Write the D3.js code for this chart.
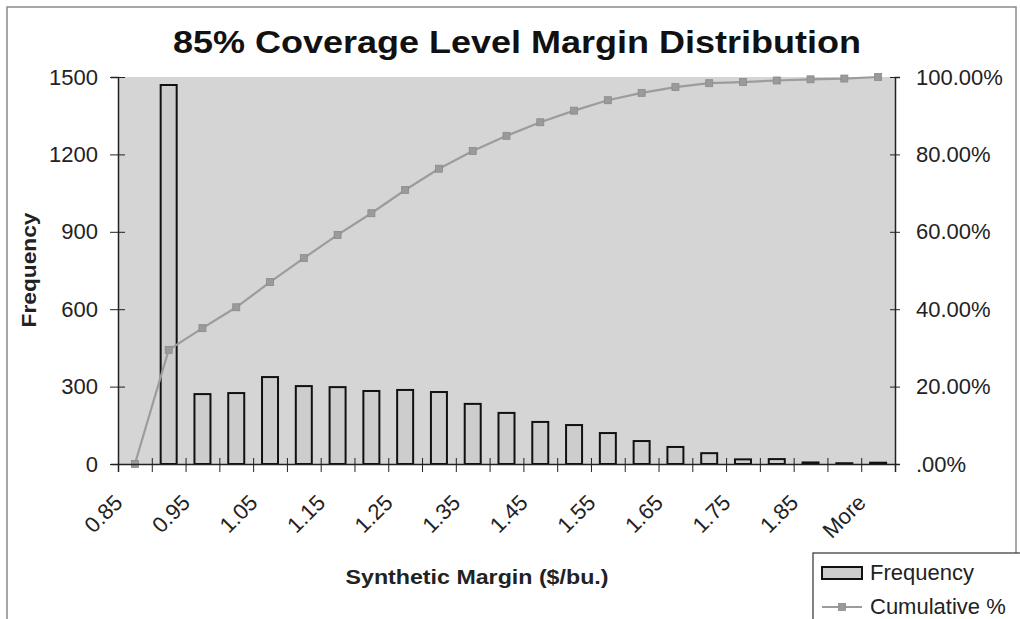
<!DOCTYPE html>
<html><head><meta charset="utf-8">
<script src="https://cdn.jsdelivr.net/npm/d3@7"></script>
<style>
html,body{margin:0;padding:0;background:#fff;}
svg{display:block;font-family:"Liberation Sans",Arial,sans-serif;}
</style></head>
<body>
<svg id="chart" width="1020" height="619"></svg>
<script>
const categories = ["0.85","0.90","0.95","1.00","1.05","1.10","1.15","1.20","1.25","1.30","1.35","1.40","1.45","1.50","1.55","1.60","1.65","1.70","1.75","1.80","1.85","1.90","More"];
const frequency = [0,1469,271,275,337,302,298,283,287,279,233,198,163,151,120,89,66,42,18,19,6,3,5];
const cumulativePct = [0,29.5,35.1,40.5,47.0,53.2,59.2,64.8,70.8,76.3,80.9,84.8,88.3,91.3,94.0,95.9,97.4,98.4,98.7,99.1,99.4,99.6,100];
const leftTicks = [0,300,600,900,1200,1500];
const rightTicks = [0,20,40,60,80,100];
const shownLabels = ["0.85","0.95","1.05","1.15","1.25","1.35","1.45","1.55","1.65","1.75","1.85","More"];

const svg = d3.select("#chart");
const L = 118, R = 895, T = 77, B = 464;

// outer frame
svg.append("rect").attr("x",7).attr("y",7).attr("width",1009).attr("height",640)
  .attr("fill","#fff").attr("stroke","#8a8a8a").attr("stroke-width",1.5);

const x = d3.scaleBand().domain(categories).range([L,R]).padding(0);
const xi = d3.scaleLinear().domain([0,categories.length]).range([L,R]);
const yL = d3.scaleLinear().domain([0,1500]).range([B,T]);
const yR = d3.scaleLinear().domain([0,100]).range([B,T]);

// plot background
svg.append("rect").attr("x",L).attr("y",T).attr("width",R-L).attr("height",B-T)
  .attr("fill","#d5d5d5");

// bars
const barW = 16;
svg.append("g").selectAll("rect").data(frequency).join("rect")
  .attr("x",(d,i)=>x(categories[i]) + (x.bandwidth()-barW)/2)
  .attr("y",d=>yL(d))
  .attr("width",barW)
  .attr("height",d=>Math.max(0,B-yL(d)))
  .attr("fill","#cdcdcd").attr("stroke","#111").attr("stroke-width",2);

// cumulative line
const line = d3.line().x((d,i)=>x(categories[i])+x.bandwidth()/2).y(d=>yR(d));
svg.append("path").datum(cumulativePct).attr("d",line)
  .attr("fill","none").attr("stroke","#9c9c9c").attr("stroke-width",2.2);
svg.append("g").selectAll("rect").data(cumulativePct).join("rect")
  .attr("x",(d,i)=>x(categories[i])+x.bandwidth()/2-3.5)
  .attr("y",d=>yR(d)-3.5)
  .attr("width",7).attr("height",7)
  .attr("fill","#9a9a9a").attr("stroke","#8a8a8a").attr("stroke-width",0.8);

const tickFont = 22;
// left axis
const gl = svg.append("g").attr("transform",`translate(${L},0)`)
  .call(d3.axisLeft(yL).tickValues(leftTicks).tickSize(7).tickPadding(13).tickFormat(d3.format("d")));
gl.selectAll(".tick line").attr("x2",-8).attr("x1",7).attr("stroke","#222");
gl.select(".domain").attr("stroke","#222").attr("stroke-width",1.5);
gl.selectAll("text").attr("font-size",tickFont).attr("fill","#222").attr("font-family","Liberation Sans, Arial, sans-serif");

// right axis
const gr = svg.append("g").attr("transform",`translate(${R},0)`)
  .call(d3.axisRight(yR).tickValues(rightTicks).tickSize(5).tickPadding(16)
    .tickFormat(d=> d===0 ? ".00%" : d.toFixed(2)+"%"));
gr.selectAll(".tick line").attr("x1",-5).attr("x2",5).attr("stroke","#222");
gr.select(".domain").attr("stroke","#222").attr("stroke-width",1.5);
gr.selectAll("text").attr("font-size",tickFont).attr("fill","#222").attr("font-family","Liberation Sans, Arial, sans-serif");

// bottom axis: boundary ticks
const gb = svg.append("g").attr("transform",`translate(0,${B})`)
  .call(d3.axisBottom(xi).tickValues(d3.range(categories.length+1)).tickSize(8).tickFormat(""));
gb.selectAll(".tick line").attr("y1",-6).attr("y2",8).attr("stroke","#222");
gb.select(".domain").attr("stroke","#222").attr("stroke-width",1.5);

// bottom labels
const gbl = svg.append("g").attr("transform",`translate(0,${B})`)
  .call(d3.axisBottom(x).tickSize(0).tickFormat(d=> shownLabels.includes(d) ? d : ""));
gbl.select(".domain").remove();
gbl.selectAll("text")
  .attr("font-size",tickFont).attr("fill","#222").attr("font-family","Liberation Sans, Arial, sans-serif")
  .attr("text-anchor","end").attr("y",0).attr("dy",0)
  .attr("transform","translate(-11,40) rotate(-45)");

// title
svg.append("text").attr("x",517).attr("y",53).attr("text-anchor","middle")
  .attr("font-size",31).attr("font-weight","bold").attr("fill","#111")
  .attr("textLength",688).attr("lengthAdjust","spacingAndGlyphs")
  .text("85% Coverage Level Margin Distribution");

// axis titles
svg.append("text").attr("x",477).attr("y",584).attr("text-anchor","middle")
  .attr("font-size",20).attr("font-weight","bold").attr("fill","#222")
  .attr("textLength",263).attr("lengthAdjust","spacingAndGlyphs")
  .text("Synthetic Margin ($/bu.)");
svg.append("text").attr("transform","translate(36,270) rotate(-90)").attr("text-anchor","middle")
  .attr("font-size",21).attr("font-weight","bold").attr("fill","#222")
  .attr("textLength",115).attr("lengthAdjust","spacingAndGlyphs")
  .text("Frequency");

// legend
const lg = svg.append("g");
lg.append("rect").attr("x",813).attr("y",553).attr("width",215).attr("height",90)
  .attr("fill","#fff").attr("stroke","#333").attr("stroke-width",1.2);
lg.append("rect").attr("x",822).attr("y",567).attr("width",40).attr("height",12)
  .attr("fill","#cdcdcd").attr("stroke","#111").attr("stroke-width",2);
lg.append("text").attr("x",870).attr("y",580).attr("font-size",22).attr("fill","#222").text("Frequency");
lg.append("line").attr("x1",822).attr("x2",862).attr("y1",607).attr("y2",607)
  .attr("stroke","#9c9c9c").attr("stroke-width",2);
lg.append("rect").attr("x",838.5).attr("y",603.5).attr("width",7).attr("height",7)
  .attr("fill","#9a9a9a").attr("stroke","#8a8a8a").attr("stroke-width",0.8);
lg.append("text").attr("x",870).attr("y",614).attr("font-size",22).attr("fill","#222").text("Cumulative %");
</script>
</body></html>
